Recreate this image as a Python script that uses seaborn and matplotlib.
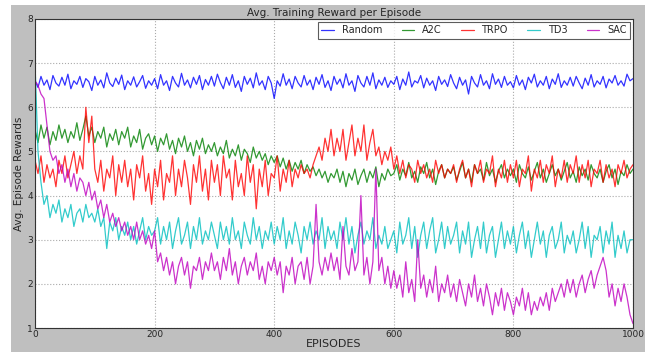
import numpy as np
import pandas as pd
import matplotlib
matplotlib.use("Agg")
import matplotlib.pyplot as plt
from matplotlib.patches import Rectangle
import seaborn as sns

episodes = np.arange(0, 1001, 5)

random_rew = [
    6.6, 6.45, 6.7, 6.5, 6.62, 6.4, 6.72, 6.55, 6.48, 6.68, 6.5, 6.75, 6.42, 6.6, 6.52, 6.7, 6.45, 6.65, 6.58, 6.38,
    6.7, 6.5, 6.62, 6.44, 6.78, 6.55, 6.47, 6.66, 6.52, 6.73, 6.4, 6.6, 6.5, 6.69, 6.46, 6.58, 6.72, 6.43, 6.6, 6.5,
    6.65, 6.42, 6.74, 6.5, 6.6, 6.38, 6.7, 6.55, 6.46, 6.77, 6.5, 6.62, 6.44, 6.68, 6.52, 6.72, 6.4, 6.63, 6.5, 6.7,
    6.48, 6.75, 6.56, 6.42, 6.68, 6.5, 6.74, 6.45, 6.6, 6.36, 6.7, 6.52, 6.66, 6.44, 6.78, 6.5, 6.6, 6.4, 6.7, 6.55,
    6.2, 6.6, 6.48, 6.76, 6.5, 6.64, 6.42, 6.7, 6.55, 6.46, 6.72, 6.5, 6.62, 6.4, 6.68, 6.52, 6.74, 6.45, 6.6, 6.38,
    6.7, 6.52, 6.64, 6.44, 6.76, 6.5, 6.6, 6.36, 6.72, 6.55, 6.46, 6.7, 6.5, 6.78, 6.42, 6.62, 6.5, 6.68, 6.45, 6.6,
    6.52, 6.7, 6.4, 6.64, 6.5, 6.8, 6.46, 6.6, 6.55, 6.72, 6.44, 6.66, 6.5, 6.6, 6.38, 6.7, 6.52, 6.62, 6.47, 6.74,
    6.55, 6.42, 6.68, 6.5, 6.62, 6.3, 6.7, 6.55, 6.46, 6.74, 6.5, 6.6, 6.42, 6.76, 6.52, 6.64, 6.45, 6.7, 6.5, 6.58,
    6.44, 6.72, 6.5, 6.62, 6.4, 6.68, 6.55, 6.75, 6.46, 6.6, 6.5, 6.7, 6.42, 6.64, 6.52, 6.76, 6.45, 6.6, 6.5, 6.68,
    6.48, 6.7, 6.55, 6.42, 6.66, 6.5, 6.74, 6.46, 6.6, 6.52, 6.7, 6.44, 6.64, 6.55, 6.72, 6.5, 6.6, 6.48, 6.75, 6.6,
    6.65]

a2c_rew = [
    5.5, 5.2, 5.6, 5.3, 5.55, 5.15, 5.45, 5.25, 5.6, 5.3, 5.5, 5.2, 5.45, 5.3, 5.65, 5.25, 5.5, 5.8, 5.35, 5.55,
    5.2, 5.45, 5.3, 5.55, 5.1, 5.4, 5.25, 5.5, 5.15, 5.45, 5.3, 5.55, 5.1, 5.35, 5.2, 5.5, 5.05, 5.3, 5.4, 5.15,
    5.35, 5.0, 5.3, 5.15, 5.4, 5.05, 5.25, 4.95, 5.3, 5.1, 5.35, 5.0, 5.2, 4.9, 5.25, 5.05, 5.3, 4.95, 5.15, 5.0,
    5.2, 4.9, 5.1, 4.95, 5.25, 4.85, 5.05, 4.9, 5.15, 4.8, 5.05, 4.95, 4.75, 5.1, 4.85, 5.0, 4.8, 4.95, 4.7, 4.9,
    4.75, 4.9, 4.65, 4.85, 4.6, 4.8, 4.55, 4.75, 4.6, 4.8, 4.5, 4.7, 4.55, 4.65, 4.45, 4.6, 4.4, 4.55, 4.3, 4.5,
    4.4, 4.6, 4.3, 4.55, 4.2, 4.5, 4.35, 4.6, 4.25, 4.45, 4.6, 4.3, 4.55, 4.4, 4.65, 4.2, 4.5, 4.35, 4.6, 4.45,
    4.5, 4.7, 4.35, 4.6, 4.45, 4.75, 4.4, 4.55, 4.3, 4.65, 4.5, 4.75, 4.4, 4.6, 4.25, 4.55, 4.7, 4.4, 4.6, 4.5,
    4.65, 4.35, 4.55, 4.75, 4.4, 4.6, 4.3, 4.7, 4.5, 4.6, 4.35, 4.75, 4.45, 4.6, 4.3, 4.55, 4.7, 4.4, 4.6, 4.45,
    4.6, 4.3, 4.7, 4.5, 4.4, 4.65, 4.35, 4.55, 4.75, 4.4, 4.6, 4.3, 4.5, 4.7, 4.45, 4.6, 4.35, 4.55, 4.75, 4.4,
    4.55, 4.3, 4.65, 4.45, 4.6, 4.35, 4.7, 4.5, 4.4, 4.6, 4.3, 4.55, 4.7, 4.4, 4.6, 4.25, 4.55, 4.45, 4.7, 4.5,
    4.6]

trpo_rew = [
    4.8, 4.5, 4.9, 4.3, 4.7, 4.4, 4.6, 4.2, 4.8, 4.5, 4.9, 4.4, 4.7, 5.0, 4.5, 4.9, 4.6, 6.0, 5.2, 5.8,
    4.6, 4.3, 4.8, 4.1, 4.6, 4.4, 4.9, 4.0, 4.7, 4.3, 4.8, 4.2, 4.6, 3.9, 4.7, 4.4, 4.9, 4.1, 4.5, 3.8,
    4.6, 4.2, 4.8, 3.9, 4.5, 4.3, 4.9, 4.0, 4.6, 4.2, 4.8, 4.4, 3.8, 4.7, 4.3, 4.9, 4.1, 4.6, 3.9, 4.8,
    4.3, 4.7, 4.0, 4.9, 4.4, 4.6, 3.9, 4.8, 4.2, 4.5, 4.0, 4.9, 4.3, 4.7, 3.7, 4.6, 4.2, 4.8, 4.0, 4.5,
    4.4, 4.9, 4.1, 4.6, 4.3, 4.8, 4.2, 4.6, 4.4, 4.7, 4.5, 4.6, 4.4, 4.7, 4.9, 5.1, 4.8, 5.3, 5.0, 5.5,
    4.9, 5.3, 5.0, 5.5, 4.8, 5.2, 5.6, 4.9, 5.3, 5.0, 5.6, 4.8, 5.2, 5.5, 4.9, 5.1, 4.7, 5.0, 4.8, 5.1,
    4.6, 4.9, 4.5, 4.8, 4.4, 4.7, 4.6, 4.3, 4.8, 4.5, 4.7, 4.4, 4.6, 4.3, 4.8, 4.5, 4.7, 4.4, 4.6, 4.5,
    4.7, 4.3, 4.6, 4.8, 4.4, 4.6, 4.2, 4.7, 4.5, 4.8, 4.3, 4.6, 4.5, 4.9, 4.2, 4.6, 4.4, 4.8, 4.3, 4.7,
    4.4, 4.8, 4.2, 4.6, 4.5, 4.9, 4.1, 4.6, 4.4, 4.8, 4.3, 4.7, 4.5, 4.9, 4.2, 4.6, 4.4, 4.8, 4.3, 4.7,
    4.5, 4.9, 4.3, 4.7, 4.4, 4.8, 4.2, 4.6, 4.5, 4.8, 4.3, 4.7, 4.4, 4.6, 4.2, 4.7, 4.5, 4.8, 4.4, 4.6,
    4.7]

td3_rew = [
    7.0, 5.0, 4.3, 3.8, 4.0, 3.5, 3.8, 3.6, 3.9, 3.4, 3.7, 3.5, 3.8, 3.3, 3.6, 3.7, 3.4, 3.8, 3.5, 3.6,
    3.4, 3.7, 3.3, 3.5, 2.8, 3.4, 3.2, 3.5, 3.0, 3.3, 3.1, 3.4, 3.0, 3.3, 2.9, 3.2, 3.5, 3.0, 3.3, 3.1,
    3.2, 3.5, 2.9, 3.3, 3.0, 3.4, 2.8, 3.2, 3.5, 2.9, 3.1, 3.4, 2.8, 3.3, 3.0, 3.5, 2.9, 3.2, 3.0, 3.4,
    3.1, 2.8, 3.4, 3.0, 3.3, 2.9, 3.5, 3.0, 3.2, 2.8, 3.4, 3.1, 2.9, 3.5, 3.0, 3.3, 2.8, 3.2, 3.0, 3.4,
    2.9, 3.3, 3.0, 3.5, 2.8, 3.2, 2.9, 3.4, 3.1, 2.7, 3.3, 3.0, 3.4, 2.9, 3.2, 3.0, 3.5, 2.8, 3.3, 3.0,
    3.2, 2.8, 3.4, 3.0, 3.5, 2.9, 3.3, 2.7, 3.1, 3.4, 2.9, 3.2, 3.0, 3.5, 2.8, 3.1, 2.9, 3.3, 2.8, 3.0,
    3.2, 2.7, 3.4, 2.9, 3.1, 3.5, 2.8, 3.3, 2.6, 3.1, 3.4, 2.8, 3.2, 3.5, 2.7, 3.0, 3.4, 2.8, 3.3, 2.9,
    3.1, 3.4, 2.7, 3.2, 2.9, 3.4, 2.6, 3.0, 3.3, 2.8, 3.4, 2.7, 3.1, 3.3, 2.6, 3.0, 3.4, 2.8, 3.2, 2.9,
    3.3, 2.7, 3.1, 3.4, 2.8, 3.2, 2.6, 3.0, 3.4, 2.9, 3.2, 2.6, 3.1, 3.3, 2.8, 3.0, 3.4, 2.7, 3.1, 2.9,
    3.2, 2.7, 3.0, 3.4, 2.8, 3.3, 2.6, 3.1, 3.0, 3.3, 2.7, 3.2, 2.9, 3.4, 2.6, 3.1, 2.8, 3.2, 2.7, 3.0,
    3.0]

sac_rew = [
    6.6, 6.5, 6.3, 6.2, 5.6, 5.0, 4.8, 4.9, 4.5, 4.7, 4.3, 4.6, 4.2, 4.5, 4.1, 4.4, 4.3, 4.0, 4.3, 3.9,
    4.1, 3.7, 3.9, 3.5, 3.8, 3.4, 3.6, 3.3, 3.5, 3.2, 3.4, 3.1, 3.3, 3.0, 3.4, 3.0, 3.2, 2.9, 3.1, 2.8,
    3.2, 2.5, 2.7, 2.3, 2.6, 2.2, 2.5, 2.0, 2.4, 2.6, 2.2, 2.5, 1.9, 2.4, 2.3, 2.6, 2.1, 2.5, 2.3, 2.7,
    2.3, 2.5, 2.1, 2.6, 2.3, 2.8, 2.2, 2.5, 2.0, 2.4, 2.6, 2.2, 2.5, 2.3, 2.7, 2.1, 2.4, 2.0, 2.5, 2.3,
    2.6, 2.2, 2.5, 1.8, 2.4, 2.2, 2.6, 2.0, 2.4, 2.5, 2.1, 2.6, 2.0, 2.4, 3.8, 2.5, 2.2, 2.6, 2.3, 2.7,
    2.3, 2.6, 2.1, 3.3, 2.4, 2.2, 2.8, 2.3, 2.5, 4.0, 2.2, 2.6, 2.0, 2.5, 4.6, 2.3, 2.6, 2.0, 2.4, 1.9,
    2.3, 1.9, 2.2, 1.7, 2.5, 1.8, 2.1, 1.6, 3.0, 1.9, 2.2, 1.7, 2.1, 1.8, 2.4, 1.6, 2.0, 1.8, 2.2, 1.7,
    2.0, 1.6, 2.1, 1.8, 1.5, 2.0, 1.7, 2.2, 1.6, 1.9, 1.5, 2.0, 1.7, 1.3, 1.8, 1.5, 1.9, 1.4, 1.8, 1.6,
    1.3, 1.7, 1.5, 1.9, 1.4, 1.8, 1.3, 1.6, 1.4, 1.7, 1.5, 1.8, 1.4, 1.9, 1.6, 1.8, 2.0, 1.7, 2.1, 1.8,
    2.1, 1.7, 2.0, 2.2, 1.8, 2.1, 2.3, 1.9, 2.2, 2.4, 2.6, 2.3, 1.7, 2.0, 1.5, 1.9, 1.6, 2.0, 1.7, 1.3,
    1.1]

labels = ["Random", "A2C", "TRPO", "TD3", "SAC"]
farben = ["#0000ff", "#008000", "#ff0000", "#00bfbf", "#bf00bf"]
reihen = [random_rew, a2c_rew, trpo_rew, td3_rew, sac_rew]

df = pd.DataFrame({"Episode": np.tile(episodes, len(labels)),
                   "Reward": np.concatenate(reihen),
                   "Algo": np.repeat(labels, len(episodes))})

sns.set_style("white")
plt.rcParams["font.family"] = ["DejaVu Sans"]

fig = plt.figure(figsize=(6.53, 3.52), dpi=100)
fig.patch.set_facecolor("white")
# grauer Hintergrund wie im klassischen Stil (mit weissem Rand)
fig.patches.append(Rectangle((11 / 653, 0), 634 / 653, 347 / 352, transform=fig.transFigure,
                             facecolor="#bfbfbf", edgecolor="none", zorder=-10))

ax = fig.add_axes([35 / 653, 24 / 352, 598 / 653, 309 / 352])
ax.set_facecolor("white")

sns.lineplot(data=df, x="Episode", y="Reward", hue="Algo", palette=farben,
             hue_order=labels, ax=ax, linewidth=0.9, alpha=0.8, legend=True)

ax.set_xlim(0, 1000)
ax.set_ylim(1, 8)
ax.set_xticks([0, 200, 400, 600, 800, 1000])
ax.set_yticks([1, 2, 3, 4, 5, 6, 7, 8])
ax.grid(True, linestyle=":", color="#aaaaaa", linewidth=0.8)
ax.tick_params(direction="in", labelsize=6.5, length=3, color="black", pad=1.5)
for s in ax.spines.values():
    s.set_color("#333333")
    s.set_linewidth(0.8)

ax.set_title("Avg. Training Reward per Episode", fontsize=7.5, pad=2)
ax.set_xlabel("EPISODES", fontsize=8, labelpad=0)
ax.set_ylabel("Avg. Episode Rewards", fontsize=7.5, labelpad=2)

leg = ax.legend(loc="upper right", ncol=5, fontsize=7, frameon=True, fancybox=False,
                handlelength=1.3, handletextpad=0.8, columnspacing=2.0,
                borderaxespad=0.3, borderpad=0.35)
leg.get_frame().set_edgecolor("#333333")
leg.get_frame().set_linewidth(0.8)

fig.savefig("out.png", dpi=100, facecolor=fig.get_facecolor())
